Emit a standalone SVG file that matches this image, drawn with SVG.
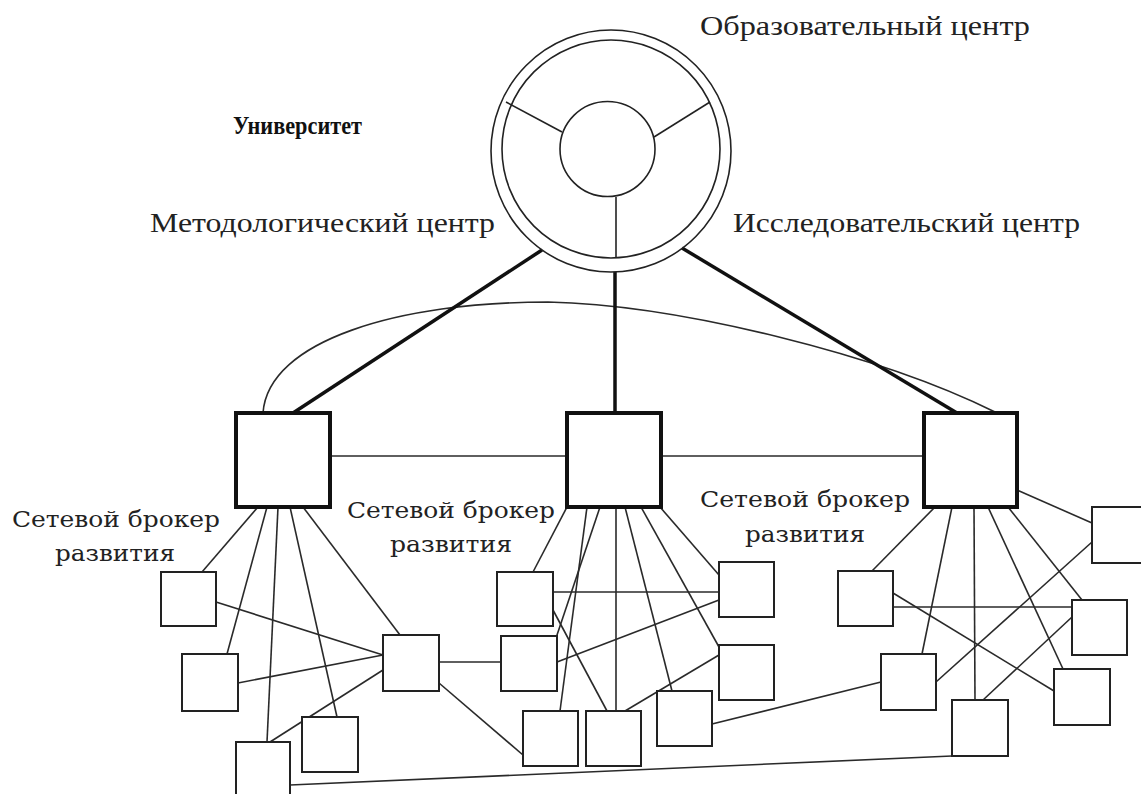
<svg xmlns="http://www.w3.org/2000/svg" width="1141" height="794" viewBox="0 0 1141 794">
<style>
.ring{fill:none;stroke:#222;stroke-width:1.6}
.hub{fill:#fff;stroke:#111;stroke-width:4}
.node{fill:#fff;stroke:#222;stroke-width:2}
.thin{fill:none;stroke:#2a2a2a;stroke-width:1.6}
.thick{fill:none;stroke:#111;stroke-width:3.5}
.lbl{font-family:"DejaVu Serif","Liberation Serif",serif;font-size:23px;fill:#222}
.top{font-family:"Liberation Serif","Times New Roman",serif;font-size:28px;fill:#222}
.bold{font-family:"Liberation Serif","Times New Roman",serif;font-size:25px;font-weight:bold;fill:#111}
</style>
<rect width="1141" height="794" fill="#fff"/>
<g id="connectors">
<path class="thin" d="M263,413 C268,340 400,302 548,302 C680,305 880,355 995,412"/>
<line class="thick" x1="542" y1="250" x2="293" y2="413"/>
<line class="thick" x1="615" y1="272" x2="615" y2="413"/>
<line class="thick" x1="682" y1="248" x2="957" y2="413"/>
<line class="thin" x1="330" y1="456" x2="567" y2="456"/>
<line class="thin" x1="661" y1="456" x2="924" y2="456"/>
<line class="thin" x1="258" y1="507" x2="202" y2="572"/>
<line class="thin" x1="267" y1="507" x2="227" y2="654"/>
<line class="thin" x1="278" y1="507" x2="267" y2="742"/>
<line class="thin" x1="290" y1="507" x2="337" y2="717"/>
<line class="thin" x1="303" y1="507" x2="400" y2="635"/>
<line class="thin" x1="216" y1="602" x2="383" y2="655"/>
<line class="thin" x1="238" y1="683" x2="383" y2="655"/>
<line class="thin" x1="270" y1="742" x2="383" y2="670"/>
<line class="thin" x1="439" y1="662" x2="501" y2="662"/>
<line class="thin" x1="439" y1="683" x2="523" y2="755"/>
<line class="thin" x1="290" y1="785" x2="952" y2="756"/>
<line class="thin" x1="567" y1="507" x2="533" y2="572"/>
<line class="thin" x1="587" y1="507" x2="560" y2="711"/>
<line class="thin" x1="600" y1="507" x2="555" y2="641"/>
<line class="thin" x1="616" y1="507" x2="616" y2="711"/>
<line class="thin" x1="625" y1="507" x2="672" y2="691"/>
<line class="thin" x1="641" y1="507" x2="719" y2="647"/>
<line class="thin" x1="660" y1="507" x2="719" y2="575"/>
<line class="thin" x1="553" y1="592" x2="719" y2="592"/>
<line class="thin" x1="557" y1="662" x2="719" y2="600"/>
<line class="thin" x1="553" y1="610" x2="607" y2="711"/>
<line class="thin" x1="625" y1="711" x2="719" y2="655"/>
<line class="thin" x1="712" y1="724" x2="881" y2="682"/>
<line class="thin" x1="935" y1="507" x2="872" y2="571"/>
<line class="thin" x1="952" y1="507" x2="922" y2="654"/>
<line class="thin" x1="974" y1="507" x2="975" y2="700"/>
<line class="thin" x1="988" y1="507" x2="1063" y2="669"/>
<line class="thin" x1="1008" y1="507" x2="1082" y2="600"/>
<line class="thin" x1="1017" y1="490" x2="1092" y2="523"/>
<line class="thin" x1="893" y1="607" x2="1072" y2="607"/>
<line class="thin" x1="893" y1="593" x2="1054" y2="691"/>
<line class="thin" x1="936" y1="682" x2="1092" y2="542"/>
<line class="thin" x1="983" y1="700" x2="1072" y2="617"/>
</g>
<g id="university">
<ellipse class="ring" cx="611" cy="151" rx="120" ry="121"/>
<ellipse class="ring" cx="611" cy="149" rx="109" ry="109"/>
<circle class="ring" cx="607.5" cy="149" r="47.5"/>
<line class="ring" x1="506" y1="102" x2="562" y2="132"/>
<line class="ring" x1="710" y1="102" x2="654" y2="137"/>
<line class="ring" x1="616" y1="197" x2="616" y2="258"/>
</g>
<g id="hub-left"><rect class="hub" x="236" y="413" width="94" height="94"/></g>
<g id="hub-mid"><rect class="hub" x="567" y="413" width="94" height="94"/></g>
<g id="hub-right"><rect class="hub" x="924" y="413" width="93" height="94"/></g>
<g id="nA"><rect class="node" x="161" y="572" width="55" height="54"/></g>
<g id="nB"><rect class="node" x="182" y="654" width="56" height="57"/></g>
<g id="nC"><rect class="node" x="383" y="635" width="56" height="56"/></g>
<g id="nD"><rect class="node" x="302" y="717" width="56" height="55"/></g>
<g id="nE"><rect class="node" x="236" y="742" width="54" height="56"/></g>
<g id="nF"><rect class="node" x="497" y="572" width="56" height="54"/></g>
<g id="nG"><rect class="node" x="501" y="636" width="56" height="55"/></g>
<g id="nH"><rect class="node" x="523" y="711" width="55" height="55"/></g>
<g id="nI"><rect class="node" x="586" y="711" width="55" height="55"/></g>
<g id="nJ"><rect class="node" x="657" y="691" width="55" height="55"/></g>
<g id="nK"><rect class="node" x="719" y="562" width="55" height="55"/></g>
<g id="nL"><rect class="node" x="719" y="645" width="55" height="55"/></g>
<g id="nM"><rect class="node" x="838" y="571" width="55" height="55"/></g>
<g id="nN"><rect class="node" x="1092" y="507" width="55" height="56"/></g>
<g id="nO"><rect class="node" x="1072" y="600" width="55" height="55"/></g>
<g id="nP"><rect class="node" x="881" y="654" width="55" height="56"/></g>
<g id="nQ"><rect class="node" x="1054" y="669" width="56" height="56"/></g>
<g id="nR"><rect class="node" x="952" y="700" width="56" height="56"/></g>
<g id="labels">
<text class="top" x="700" y="35" textLength="330" lengthAdjust="spacingAndGlyphs">Образовательный центр</text>
<text class="bold" x="233" y="134" textLength="129" lengthAdjust="spacingAndGlyphs">Университет</text>
<text class="top" x="150" y="232" textLength="345" lengthAdjust="spacingAndGlyphs">Методологический центр</text>
<text class="top" x="733" y="232" textLength="347" lengthAdjust="spacingAndGlyphs">Исследовательский центр</text>
<text class="lbl" x="12" y="527" textLength="208" lengthAdjust="spacingAndGlyphs">Сетевой брокер</text>
<text class="lbl" x="55" y="561" textLength="120" lengthAdjust="spacingAndGlyphs">развития</text>
<text class="lbl" x="347" y="518" textLength="208" lengthAdjust="spacingAndGlyphs">Сетевой брокер</text>
<text class="lbl" x="390" y="552" textLength="122" lengthAdjust="spacingAndGlyphs">развития</text>
<text class="lbl" x="700" y="507" textLength="210" lengthAdjust="spacingAndGlyphs">Сетевой брокер</text>
<text class="lbl" x="745" y="542" textLength="120" lengthAdjust="spacingAndGlyphs">развития</text>
</g>
</svg>
